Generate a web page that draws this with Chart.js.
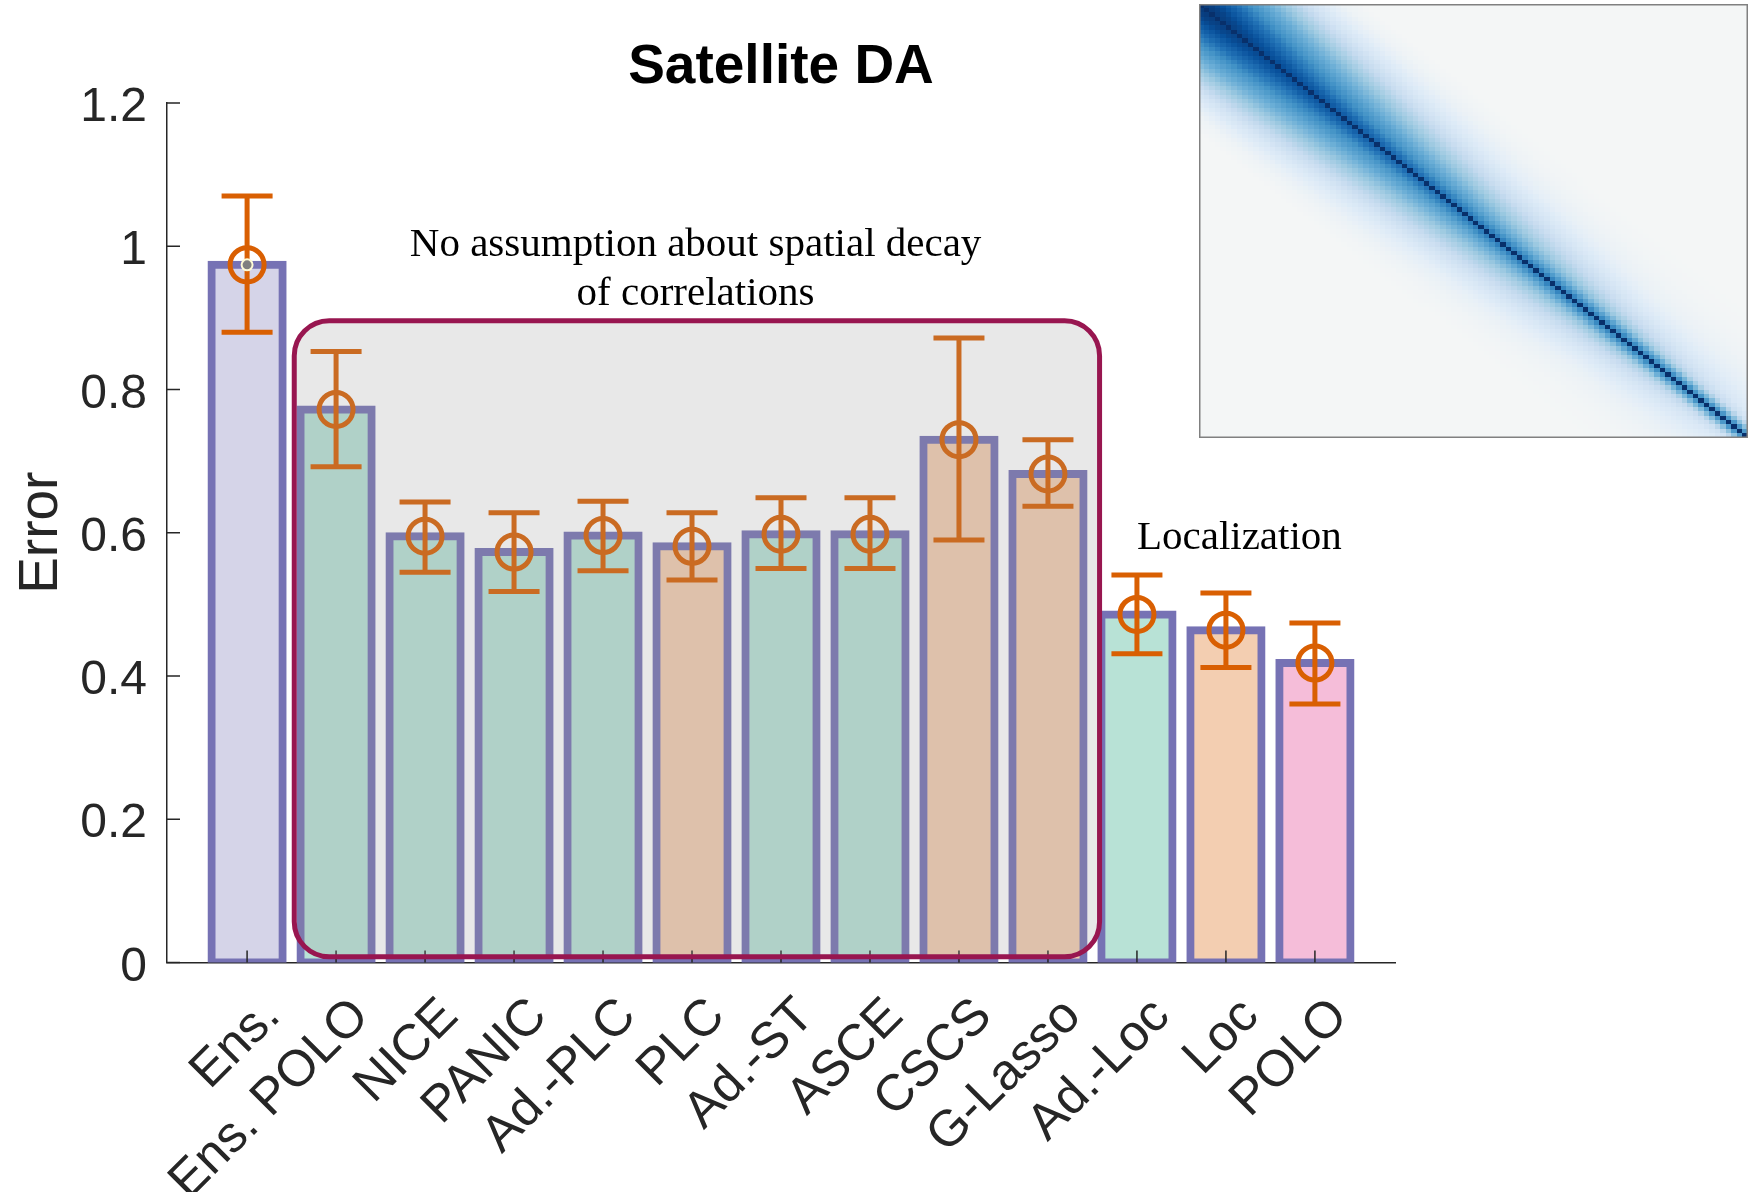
<!DOCTYPE html>
<html>
<head>
<meta charset="utf-8">
<title>Satellite DA</title>
<script src="https://cdn.jsdelivr.net/npm/chart.js@4.4.1/dist/chart.umd.min.js"></script>
<style>
  html, body { margin: 0; padding: 0; background: #fff; }
  #wrap { position: relative; width: 1754px; height: 1192px; }
  #main { position: absolute; left: 0; top: 0; }
  #inset { position: absolute; left: 1199px; top: 4px; }
</style>
</head>
<body>
<div id="wrap">
  <canvas id="main" width="1754" height="1192"></canvas>
  <canvas id="inset" width="549" height="434"></canvas>
</div>
<script>
// methods, left to right
const methods = ['Ens.', 'Ens. POLO', 'NICE', 'PANIC', 'Ad.-PLC', 'PLC', 'Ad.-ST',
                 'ASCE', 'CSCS', 'G-Lasso', 'Ad.-Loc', 'Loc', 'POLO'];
const errorMean = [0.974, 0.772, 0.595, 0.573, 0.596, 0.581, 0.598, 0.598, 0.730, 0.682, 0.486, 0.464, 0.418];
const errorLow  = [0.880, 0.692, 0.545, 0.518, 0.547, 0.534, 0.550, 0.550, 0.590, 0.637, 0.431, 0.412, 0.361];
const errorHigh = [1.070, 0.853, 0.643, 0.628, 0.644, 0.628, 0.649, 0.649, 0.872, 0.730, 0.541, 0.516, 0.474];
const methodKind = ['ens', 'blend', 'blend', 'blend', 'blend', 'taper', 'blend',
                    'blend', 'taper', 'taper', 'blend', 'taper', 'polo'];
const yTickLabels = ['0', '0.2', '0.4', '0.6', '0.8', '1', '1.2'];

// annotations (data units)
const boxX = [1.53, 10.58];
const boxY = [0.008, 0.896];
const noteLines = ['No assumption about spatial decay', 'of correlations'];
const noteX = [6.04, 6.04];
const noteY = [0.986, 0.918];
const locText = 'Localization';
const locX = 11;
const locY = 0.577;

// inset: colour level against distance from the diagonal, read at a few places along it
const insetSize = 100;
const insetAt = [0, 10, 30, 50, 75, 99];
const insetDist = [0, 1, 2, 3, 4, 6, 8, 10, 12, 14, 16, 18, 20, 23, 26, 30];
const insetLevel = [
  [1, 0.97, 0.96, 0.94, 0.91, 0.85, 0.78, 0.70, 0.61, 0.52, 0.42, 0.32, 0.22, 0.11, 0.05, 0],
  [1, 0.92, 0.90, 0.87, 0.84, 0.78, 0.70, 0.62, 0.54, 0.45, 0.36, 0.27, 0.18, 0.09, 0.03, 0],
  [1, 0.84, 0.80, 0.75, 0.70, 0.62, 0.53, 0.45, 0.37, 0.29, 0.21, 0.15, 0.10, 0.05, 0.02, 0],
  [1, 0.76, 0.70, 0.63, 0.57, 0.47, 0.38, 0.30, 0.22, 0.16, 0.11, 0.07, 0.05, 0.025, 0.01, 0],
  [1, 0.72, 0.60, 0.48, 0.39, 0.27, 0.19, 0.13, 0.09, 0.06, 0.04, 0.03, 0.02, 0.01, 0.005, 0],
  [1, 0.66, 0.44, 0.27, 0.16, 0.09, 0.07, 0.055, 0.045, 0.035, 0.03, 0.02, 0.015, 0.01, 0.005, 0]
];
const bluesAt = [0, 0.1, 0.25, 0.4, 0.55, 0.7, 0.8, 0.9, 1];
const bluesRGB = [[244, 246, 246], [222, 235, 247], [198, 219, 239], [158, 202, 225],
                  [107, 174, 214], [66, 146, 198], [33, 113, 181], [8, 81, 156], [8, 48, 107]];

const kindFill = { ens: '#d5d4e8', blend: '#b8e2d6', taper: '#f3ceb1', polo: '#f5bdd9' };
const ORANGE = '#d95f02';
const INK = '#262626';
const SANS = 'Liberation Sans, Arial, Helvetica, sans-serif';
const SERIF = 'Liberation Serif, Times New Roman, serif';

const points = methods.map((m, i) => ({ x: i + 1, y: errorMean[i] }));

// error bars, drawn straight after the bars
const errorBars = {
  id: 'errorBars',
  afterDatasetDraw(chart, args) {
    if (args.index !== 0) return;
    const { ctx, scales: { x, y } } = chart;
    ctx.save();
    ctx.strokeStyle = ORANGE;
    ctx.lineWidth = 5;
    methods.forEach((m, i) => {
      const px = x.getPixelForValue(i + 1);
      const lo = y.getPixelForValue(errorLow[i]);
      const hi = y.getPixelForValue(errorHigh[i]);
      ctx.beginPath();
      ctx.moveTo(px, lo); ctx.lineTo(px, hi);
      ctx.moveTo(px - 25.5, lo); ctx.lineTo(px + 25.5, lo);
      ctx.moveTo(px - 25.5, hi); ctx.lineTo(px + 25.5, hi);
      ctx.stroke();
    });
    ctx.restore();
  }
};

// inward ticks, shaded box and text notes
const decorations = {
  id: 'decorations',
  afterDatasetsDraw(chart) {
    const { ctx, chartArea: a, scales: { x, y } } = chart;
    ctx.save();
    ctx.strokeStyle = INK;
    ctx.lineWidth = 1.5;
    ctx.beginPath();
    y.ticks.forEach(t => {
      const py = y.getPixelForValue(t.value);
      ctx.moveTo(a.left, py); ctx.lineTo(a.left + 13, py);
    });
    x.ticks.forEach(t => {
      const px = x.getPixelForValue(t.value);
      ctx.moveTo(px, a.bottom); ctx.lineTo(px, a.bottom - 12);
    });
    ctx.stroke();

    const l = x.getPixelForValue(boxX[0]), r = x.getPixelForValue(boxX[1]);
    const t = y.getPixelForValue(boxY[1]), b = y.getPixelForValue(boxY[0]);
    ctx.beginPath();
    ctx.roundRect(l, t, r - l, b - t, 35);
    ctx.fillStyle = 'rgba(150,150,150,0.22)';
    ctx.fill();
    ctx.strokeStyle = '#981650';
    ctx.lineWidth = 5;
    ctx.stroke();

    ctx.fillStyle = '#000';
    ctx.font = '41px ' + SERIF;
    ctx.textBaseline = 'alphabetic';
    ctx.textAlign = 'center';
    noteLines.forEach((s, i) => ctx.fillText(s, x.getPixelForValue(noteX[i]), y.getPixelForValue(noteY[i])));
    ctx.textAlign = 'left';
    ctx.fillText(locText, x.getPixelForValue(locX), y.getPixelForValue(locY));
    ctx.restore();
  }
};

new Chart(document.getElementById('main'), {
  type: 'bar',
  data: {
    datasets: [
      {
        type: 'bar',
        data: points,
        backgroundColor: methodKind.map(k => kindFill[k]),
        borderColor: '#7672b4',
        borderWidth: 8,
        borderSkipped: false,
        inflateAmount: 4,
        barPercentage: 0.8,
        categoryPercentage: 1,
        order: 3
      },
      {
        type: 'scatter',
        data: points,
        pointStyle: 'circle',
        pointRadius: 17,
        pointBorderWidth: 5,
        pointBorderColor: ORANGE,
        pointBackgroundColor: 'rgba(0,0,0,0)',
        order: 2
      },
      {
        type: 'scatter',
        data: [points[0]],
        pointStyle: 'circle',
        pointRadius: 5.5,
        pointBorderWidth: 2,
        pointBorderColor: '#fffbd6',
        pointBackgroundColor: '#808080',
        order: 1
      }
    ]
  },
  options: {
    responsive: false,
    animation: false,
    devicePixelRatio: 1,
    layout: { padding: { left: 0, right: 359, top: 0, bottom: 0 } },
    plugins: {
      legend: { display: false },
      tooltip: { enabled: false },
      title: {
        display: true,
        text: 'Satellite DA',
        fullSize: false,
        color: '#000',
        font: { family: SANS, size: 55, weight: 'bold' },
        padding: { top: 35, bottom: 2 }
      }
    },
    scales: {
      x: {
        type: 'linear',
        min: 0.1,
        max: 13.9,
        offset: false,
        grid: { display: false, drawTicks: false },
        border: { display: true, color: INK, width: 1.5 },
        ticks: {
          stepSize: 1,
          includeBounds: false,
          autoSkip: false,
          minRotation: 45,
          maxRotation: 45,
          padding: 24,
          labelOffset: 25,
          color: INK,
          font: { family: SANS, size: 51 },
          callback: v => methods[v - 1] ?? ''
        },
        afterFit: s => { s.height = 229.5; }
      },
      y: {
        min: 0,
        max: 1.2,
        grid: { display: false, drawTicks: false },
        border: { display: true, color: INK, width: 1.5 },
        ticks: {
          stepSize: 0.2,
          padding: 20,
          labelOffset: 5,
          color: INK,
          font: { family: SANS, size: 48 },
          callback: v => yTickLabels[Math.round(v / 0.2)]
        },
        title: {
          display: true,
          text: 'Error',
          color: INK,
          font: { family: SANS, size: 55 },
          padding: { top: 8.5, bottom: 0 }
        },
        afterFit: s => { s.width = 167; }
      }
    }
  },
  plugins: [errorBars, decorations]
});

// inset heat map
function lookup(xs, ys, v) {
  if (v <= xs[0]) return ys[0];
  for (let i = 1; i < xs.length; i++) {
    if (v <= xs[i]) {
      const t = (v - xs[i - 1]) / (xs[i] - xs[i - 1]);
      return ys[i - 1] + t * (ys[i] - ys[i - 1]);
    }
  }
  return ys[ys.length - 1];
}
function levelAt(r, c) {
  const p = (r + c) / 2, d = Math.abs(r - c);
  const prof = insetDist.map((dd, k) => lookup(insetAt, insetLevel.map(row => row[k]), p));
  return lookup(insetDist, prof, d);
}
function blues(v) {
  const ch = [0, 1, 2].map(k => Math.round(lookup(bluesAt, bluesRGB.map(c => c[k]), v)));
  return 'rgb(' + ch.join(',') + ')';
}

const heatCells = {
  id: 'heatCells',
  beforeDatasetsDraw(chart) {
    const { ctx, chartArea: a, scales: { x, y } } = chart;
    ctx.save();
    for (let r = 0; r < insetSize; r++) {
      const y0 = y.getPixelForValue(r), y1 = y.getPixelForValue(r + 1);
      for (let c = 0; c < insetSize; c++) {
        const x0 = x.getPixelForValue(c), x1 = x.getPixelForValue(c + 1);
        ctx.fillStyle = blues(levelAt(r, c));
        ctx.fillRect(Math.floor(x0), Math.floor(y0), Math.ceil(x1) - Math.floor(x0), Math.ceil(y1) - Math.floor(y0));
      }
    }
    ctx.strokeStyle = '#808080';
    ctx.lineWidth = 1.5;
    ctx.strokeRect(a.left + 0.75, a.top + 0.75, a.right - a.left - 1.5, a.bottom - a.top - 1.5);
    ctx.restore();
  }
};

new Chart(document.getElementById('inset'), {
  type: 'scatter',
  data: { datasets: [] },
  options: {
    responsive: false,
    animation: false,
    devicePixelRatio: 1,
    layout: { padding: 0 },
    plugins: { legend: { display: false }, tooltip: { enabled: false } },
    scales: {
      x: { type: 'linear', min: 0, max: insetSize, display: false },
      y: { type: 'linear', min: 0, max: insetSize, reverse: true, display: false }
    }
  },
  plugins: [heatCells]
});
</script>
</body>
</html>
